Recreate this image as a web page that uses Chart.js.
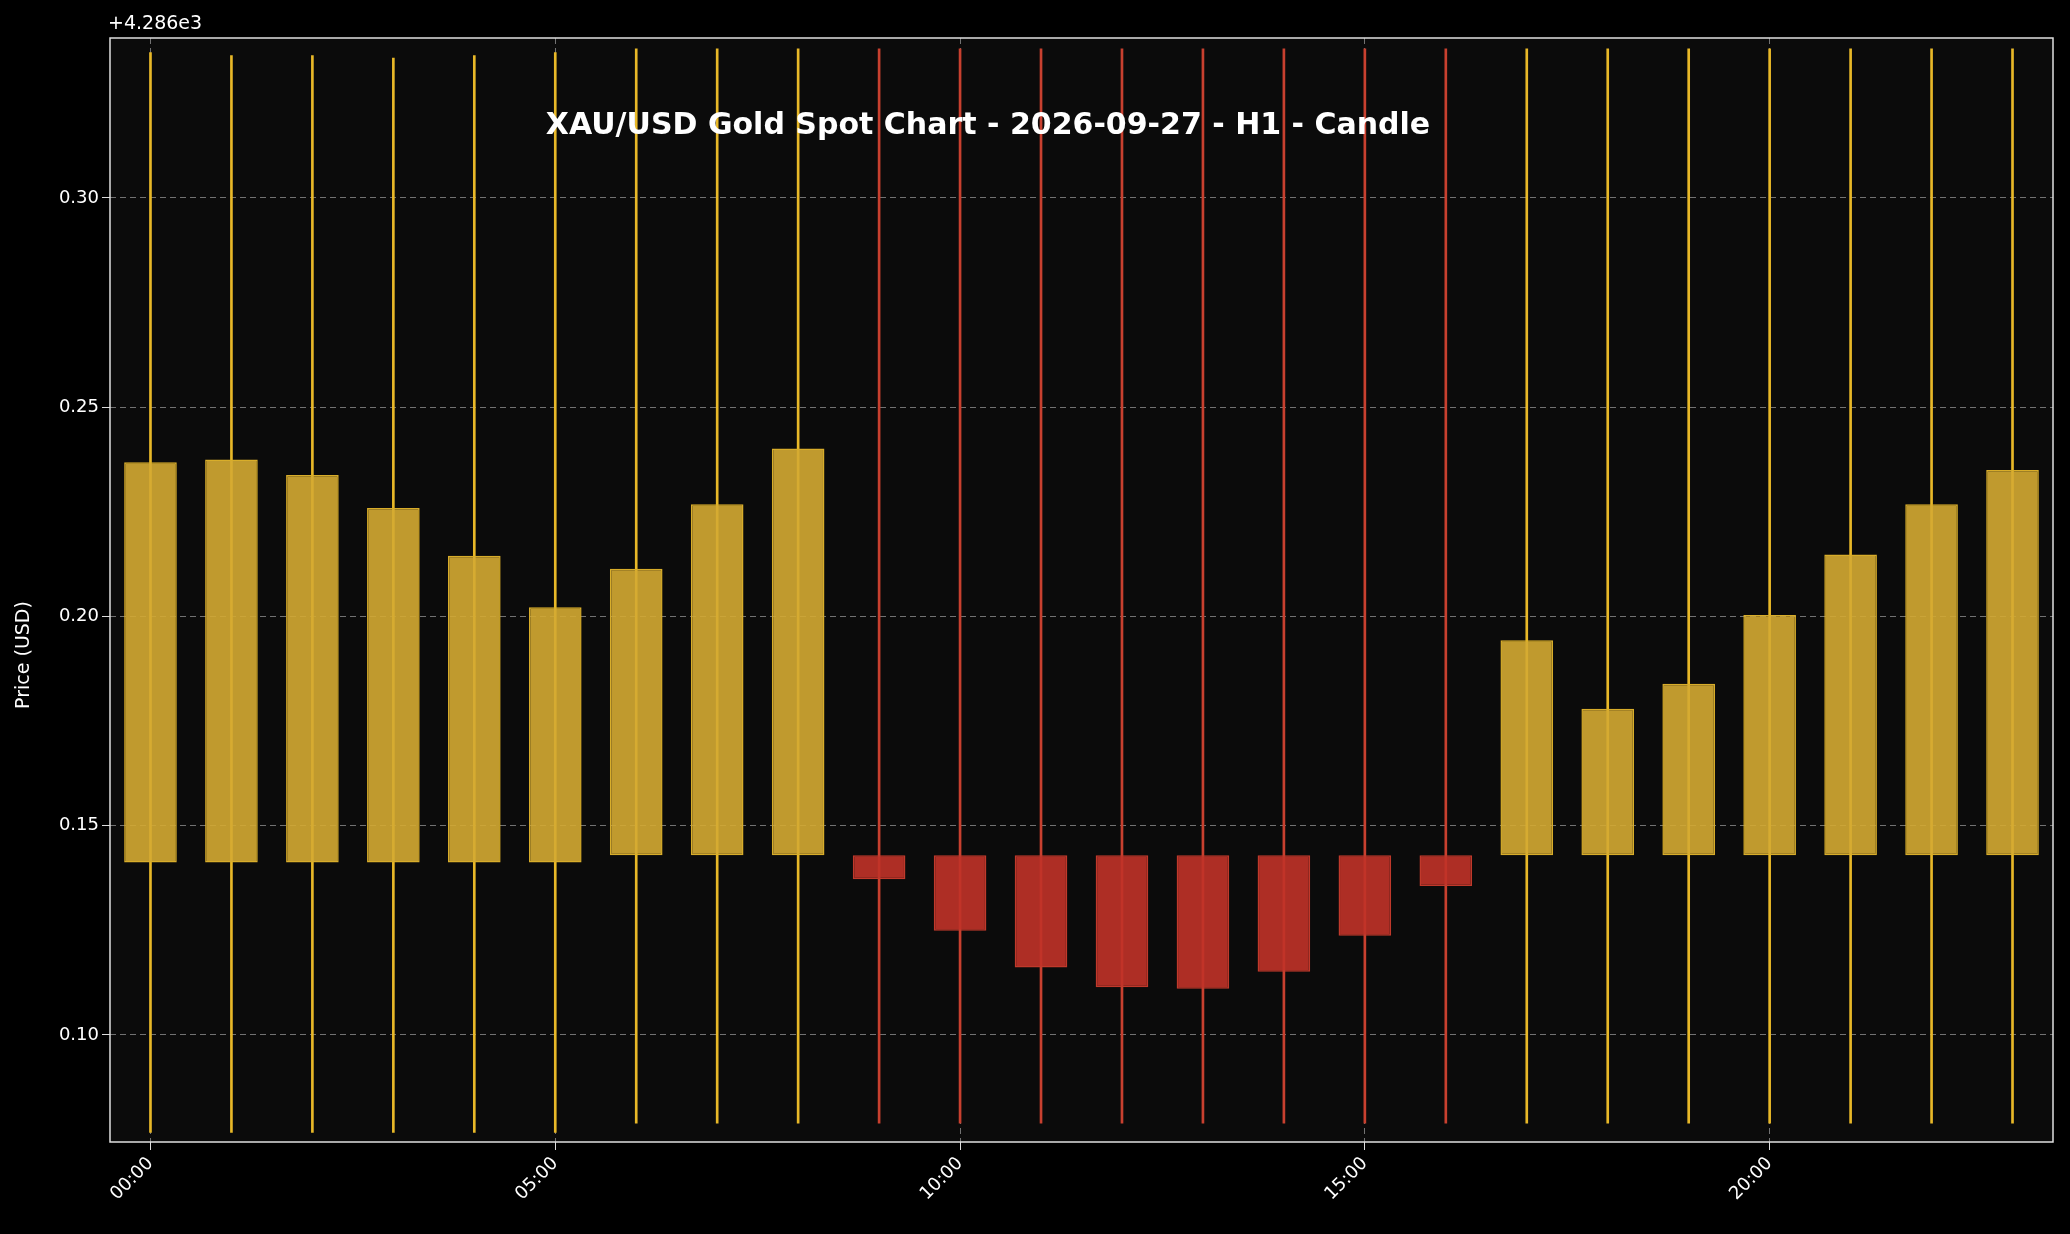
<!DOCTYPE html>
<html>
<head>
<meta charset="utf-8">
<script src="https://cdn.jsdelivr.net/npm/chart.js@4/dist/chart.umd.min.js"></script>
<style>
  html, body { margin: 0; padding: 0; background: #000; }
  #wrap { width: 2070px; height: 1234px; }
</style>
</head>
<body>
<div id="wrap"><canvas id="c" width="2070" height="1234"></canvas></div>
<script>
// prices are offsets from 4286 USD
const hours = ['00:00','01:00','02:00','03:00','04:00','05:00','06:00','07:00','08:00','09:00','10:00','11:00',
               '12:00','13:00','14:00','15:00','16:00','17:00','18:00','19:00','20:00','21:00','22:00','23:00'];
const opens  = [0.1412,0.1412,0.1412,0.1412,0.1412,0.1412,0.1429,0.1429,0.1429,0.1429,0.1429,0.1429,
                0.1429,0.1429,0.1429,0.1429,0.1429,0.1429,0.1429,0.1429,0.1429,0.1429,0.1429,0.1429];
const closes = [0.2368,0.2375,0.2338,0.2259,0.2145,0.2022,0.2114,0.2268,0.2401,0.1372,0.1249,0.1161,
                0.1114,0.1110,0.1151,0.1237,0.1356,0.1943,0.1779,0.1839,0.2003,0.2148,0.2268,0.2350];
const highs  = [0.3347,0.3340,0.3340,0.3334,0.3340,0.3347,0.3356,0.3356,0.3356,0.3356,0.3356,0.3356,
                0.3356,0.3356,0.3356,0.3356,0.3356,0.3356,0.3356,0.3356,0.3356,0.3356,0.3356,0.3356];
const lows   = [0.0767,0.0767,0.0767,0.0767,0.0767,0.0767,0.0789,0.0789,0.0789,0.0789,0.0789,0.0789,
                0.0789,0.0789,0.0789,0.0789,0.0789,0.0789,0.0789,0.0789,0.0789,0.0789,0.0789,0.0789];
const yTicks = [0.10, 0.15, 0.20, 0.25, 0.30];

const up = closes.map((c, i) => c >= opens[i]);
const bodyFill = up.map(u => u ? 'rgba(212,170,50,0.9)' : 'rgba(192,50,40,0.9)');
const bodyEdge = up.map(u => u ? '#d8ad2a' : '#c0392b');
const wickCol  = up.map(u => u ? '#e8b828' : '#c8402f');

const frame = {
  id: 'frame',
  beforeDraw(chart) {
    const { ctx, chartArea: a } = chart;
    ctx.save();
    ctx.fillStyle = '#0b0b0b';
    ctx.fillRect(a.left, a.top, a.right - a.left, a.bottom - a.top);
    ctx.restore();
  },
  afterDraw(chart) {
    const { ctx, chartArea: a } = chart;
    ctx.save();
    ctx.strokeStyle = '#e0e0e0';
    ctx.lineWidth = 1.5;
    ctx.strokeRect(a.left, a.top, a.right - a.left, a.bottom - a.top);
    ctx.fillStyle = '#fff';
    ctx.font = 'bold 30px "DejaVu Sans"';
    ctx.textAlign = 'center';
    ctx.textBaseline = 'middle';
    ctx.fillText('XAU/USD Gold Spot Chart - 2026-09-27 - H1 - Candle', 988, 126);
    ctx.font = '19px "DejaVu Sans"';
    ctx.textAlign = 'left';
    ctx.textBaseline = 'bottom';
    ctx.fillText('+4.286e3', 108, 34);
    ctx.translate(24, 655);
    ctx.rotate(-Math.PI / 2);
    ctx.textAlign = 'center';
    ctx.textBaseline = 'middle';
    ctx.fillText('Price (USD)', 0, 0);
    ctx.restore();
  }
};

new Chart(document.getElementById('c'), {
  type: 'bar',
  data: {
    labels: hours,
    datasets: [
      {
        label: 'wick',
        data: hours.map((h, i) => [lows[i], highs[i]]),
        backgroundColor: wickCol,
        borderWidth: 0,
        barThickness: 2,
        grouped: false,
        order: 2
      },
      {
        label: 'body',
        data: hours.map((h, i) => [opens[i], closes[i]]),
        backgroundColor: bodyFill,
        borderColor: bodyEdge,
        borderWidth: 1.5,
        borderSkipped: false,
        barPercentage: 0.65,
        categoryPercentage: 1,
        grouped: false,
        order: 1
      }
    ]
  },
  options: {
    responsive: false,
    animation: false,
    layout: { padding: { top: 38, right: 17, left: 0, bottom: 0 } },
    plugins: { legend: { display: false }, tooltip: { enabled: false } },
    scales: {
      x: {
        offset: true,
        grid: {
          offset: false,
          color: ctx => (ctx.index % 5 === 0 ? 'rgba(200,200,200,0.55)' : 'rgba(0,0,0,0)'),
          tickColor: ctx => (ctx.index % 5 === 0 ? '#ddd' : 'rgba(0,0,0,0)'),
          tickLength: 8
        },
        border: { display: false, dash: [6, 4] },
        ticks: {
          autoSkip: false,
          maxRotation: 45,
          minRotation: 45,
          color: '#fff',
          font: { family: 'DejaVu Sans', size: 18 },
          callback: (v, i) => (i % 5 === 0 ? hours[i] : '')
        },
        afterFit: s => { s.height = 92; }
      },
      y: {
        min: 0.0744,
        max: 0.3382,
        afterBuildTicks: s => { s.ticks = yTicks.map(v => ({ value: v })); },
        grid: { color: 'rgba(200,200,200,0.55)', tickColor: '#ddd', tickLength: 8 },
        border: { display: false, dash: [6, 4] },
        ticks: {
          color: '#fff',
          font: { family: 'DejaVu Sans', size: 18 },
          callback: v => v.toFixed(2)
        },
        afterFit: s => { s.width = 110; }
      }
    }
  },
  plugins: [frame]
});
</script>
</body>
</html>
